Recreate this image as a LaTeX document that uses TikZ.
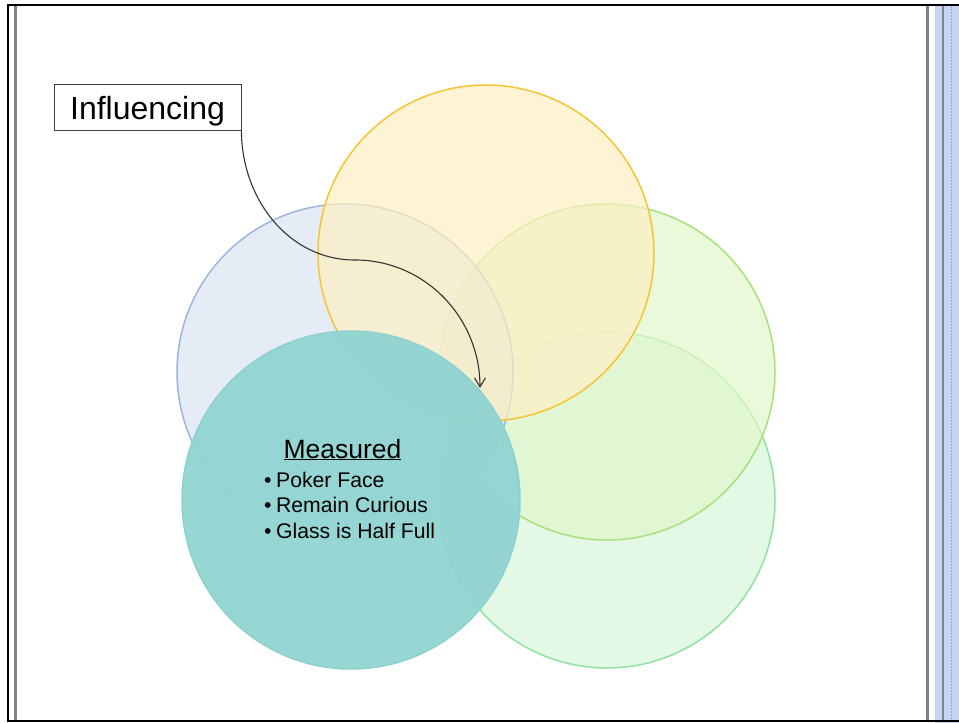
\documentclass[tikz,border=0pt]{standalone}
\usepackage{fontspec}
\setmainfont{Liberation Sans}
\usepackage{tikz}
\usetikzlibrary{arrows.meta}

\definecolor{blueedge}{HTML}{9BB7DB}
\definecolor{bluefill}{HTML}{DAE4F2}
\definecolor{goldedge}{HTML}{F5C436}
\definecolor{goldfill}{HTML}{FDEFC2}
\definecolor{limeedge}{HTML}{A6E27C}
\definecolor{limefill}{HTML}{E1F6C9}
\definecolor{mintedge}{HTML}{8EE3A0}
\definecolor{mintfill}{HTML}{D8F5DB}
\definecolor{tealedge}{HTML}{8CD1CE}
\definecolor{tealfill}{HTML}{92D5D2}
\definecolor{frame}{HTML}{7F8090}
\definecolor{band}{HTML}{C6D5F2}

\begin{document}
\begin{tikzpicture}[x = 1pt, y = -1pt, >= {Straight Barb[length = 9pt, width = 11pt]},
    ring/.style = {line width = 1.5pt, fill opacity = 0.7},
    bullet/.style = {anchor = base west, inner sep = 0pt, font = \fontsize{21.2}{25}\selectfont}]
      \useasboundingbox (0, 0) rectangle (959, 723);
      % page frame
      \fill[band] (935, 6) rectangle (959, 723);
      \draw[frame, line width = 2.7pt] (15.3, 6) -- (15.3, 720);
      \draw[frame, line width = 2.7pt] (927.5, 6) -- (927.5, 720);
      \draw[frame, line width = 2pt] (943, 6) -- (943, 720);
      \draw[frame!70, line width = 1pt, dash pattern = on 2pt off 1pt] (951, 6) -- (951, 720);
      \draw[line width = 2pt] (959, 5) -- (8.3, 5) -- (8.3, 721) -- (959, 721);
      % circles
      \draw[ring, draw = mintedge, fill = mintfill] (607, 500) circle (168pt);
      \draw[ring, draw = limeedge, fill = limefill] (607, 372) circle (168pt);
      \draw[ring, draw = blueedge, fill = bluefill] (345, 372) circle (168pt);
      \draw[ring, draw = goldedge, fill = goldfill] (486, 253) circle (168pt);
      \draw[line width = 1.5pt, draw = tealedge, fill = tealfill, fill opacity = 0.96] (351, 500) circle (169pt);
      % labels
      \node[draw = black!75, line width = 0.8pt, minimum width = 187pt, minimum height = 46pt,
            inner sep = 0pt, text height = 30pt, text depth = 5pt,
            font = \fontsize{32}{38}\selectfont] (influencing) at (147.5, 107) {Influencing};
      \node[anchor = base, inner sep = 0pt, font = \fontsize{26.5}{31}\selectfont] (measured) at (342.5, 458) {\underline{Measured}};
      \node[bullet] (poker) at (264, 487) {\textbullet\hspace{4.5pt}Poker Face};
      \node[bullet] (curious) at (264, 512) {\textbullet\hspace{4.5pt}Remain Curious};
      \node[bullet] (glass) at (264, 538) {\textbullet\hspace{4.5pt}Glass is Half Full};
      % connector
      \coordinate (bend) at (355, 260);
      \coordinate (tip) at (480, 388);
      \draw[->, black!80, line width = 1.1pt] (influencing.south east) to[out = -90, in = 180] (bend)
            to[out = 0, in = 90] (tip);
    \end{tikzpicture}
\end{document}
